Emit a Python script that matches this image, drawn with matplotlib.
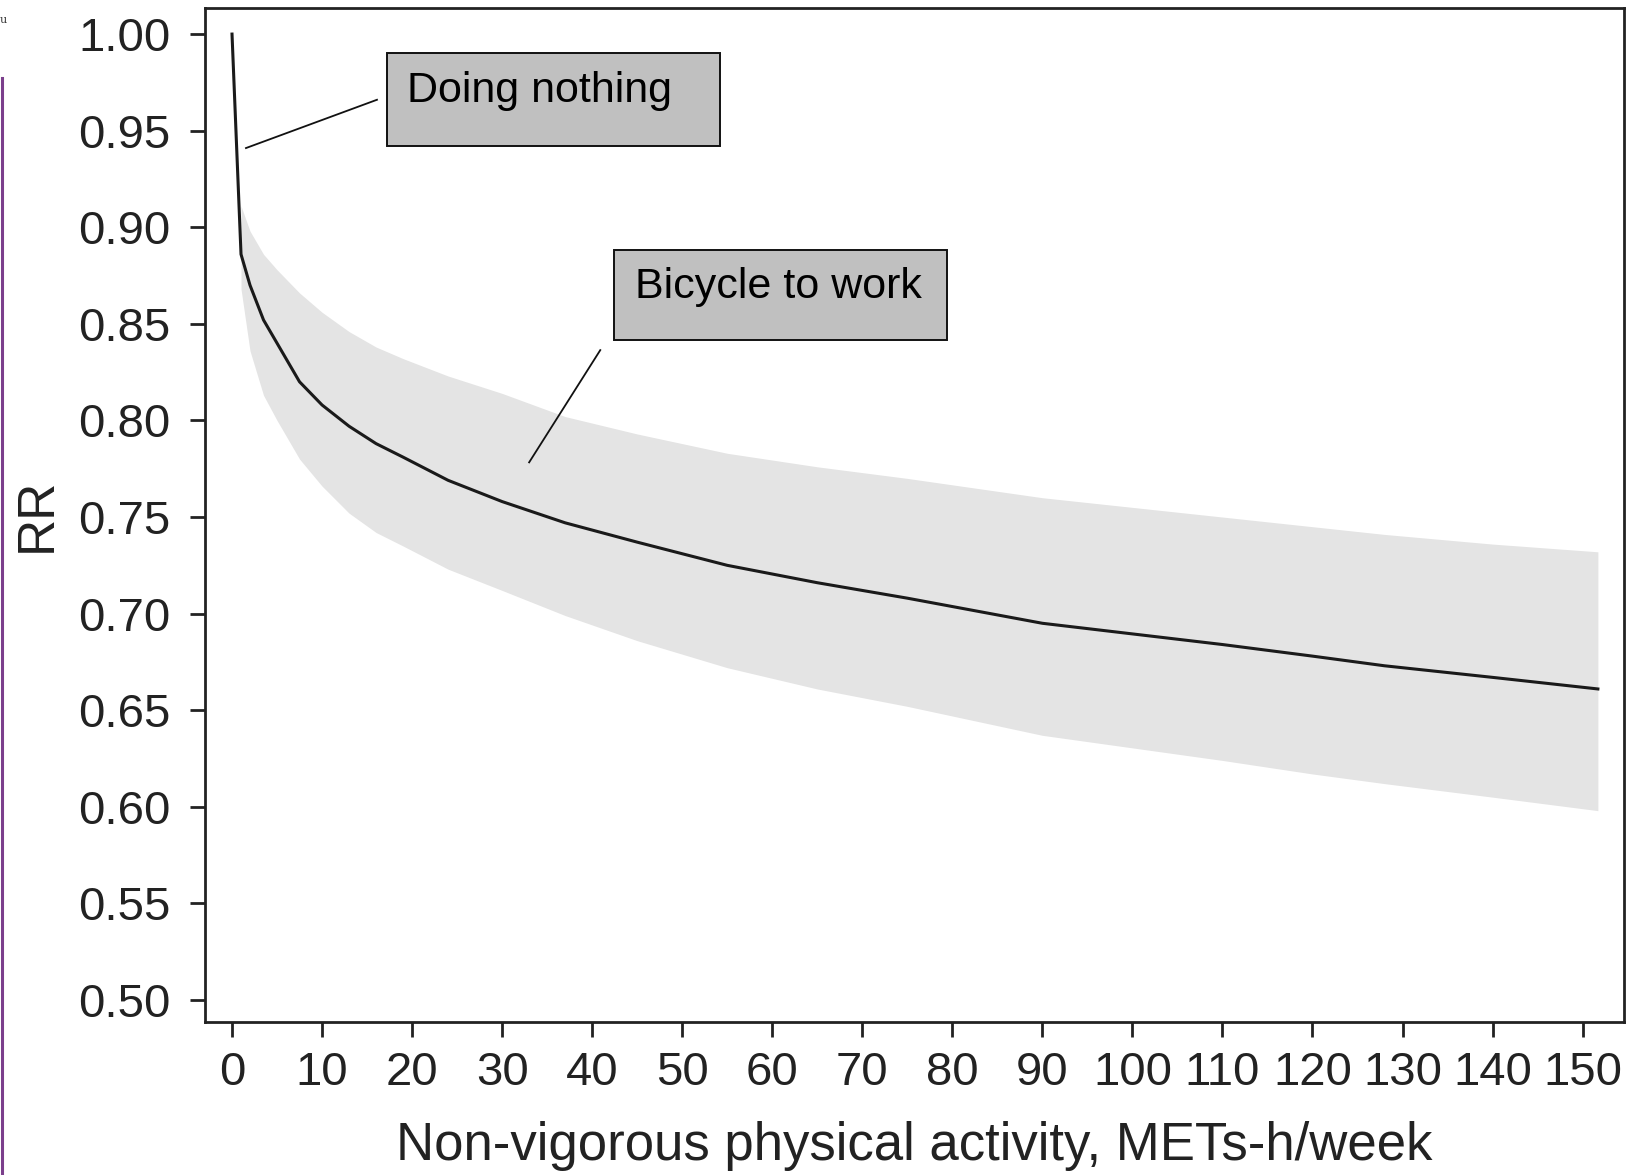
import matplotlib
matplotlib.use("Agg")
import matplotlib.pyplot as plt
from matplotlib.patches import Rectangle
from matplotlib.lines import Line2D

plt.rcParams['font.family'] = ['Liberation Sans', 'DejaVu Sans']

# pooled dose-response curve
mets = [0, 1, 2, 3.5, 5, 7.5, 10, 13, 16, 19, 24, 30, 37, 45, 55, 65, 75, 90, 110, 120, 128, 140, 151.7]
rr = [1.000, 0.886, 0.870, 0.852, 0.840, 0.820, 0.808, 0.797, 0.788, 0.781, 0.769, 0.758,
      0.747, 0.737, 0.725, 0.716, 0.708, 0.695, 0.684, 0.678, 0.673, 0.667, 0.661]
ci_x = mets[1:]
ci_upper = [0.911, 0.898, 0.886, 0.878, 0.866, 0.856, 0.846, 0.838, 0.832, 0.823, 0.814,
            0.802, 0.793, 0.783, 0.776, 0.770, 0.760, 0.750, 0.745, 0.741, 0.736, 0.732]
ci_lower = [0.868, 0.836, 0.813, 0.800, 0.780, 0.766, 0.752, 0.742, 0.735, 0.723, 0.712,
            0.699, 0.686, 0.672, 0.661, 0.652, 0.637, 0.624, 0.617, 0.612, 0.605, 0.598]

xticks = list(range(0, 151, 10))
yticks = [0.50, 0.55, 0.60, 0.65, 0.70, 0.75, 0.80, 0.85, 0.90, 0.95, 1.00]

fig = plt.figure(figsize=(16.37, 11.75), dpi=100)
ax = fig.add_axes([205 / 1637, 1 - 1022 / 1175, 1419 / 1637, 1014 / 1175])

ax.fill_between(ci_x, ci_lower, ci_upper, color='#e4e4e4', lw=0, zorder=1)
ax.plot(mets, rr, color='#1a1a1a', lw=2.2, zorder=3, solid_joinstyle='round')

# annotation boxes
ax.add_patch(Rectangle((17.2, 0.942), 37.0, 0.048, facecolor='#c0c0c0', edgecolor='#111111', lw=1.4, zorder=4))
ax.text(19.4, 0.9705, 'Doing nothing', fontsize=31, va='center', ha='left', zorder=5)
ax.plot([16.1, 1.55], [0.966, 0.941], color='#111111', lw=1.3, zorder=4)

ax.add_patch(Rectangle((42.4, 0.8416), 37.0, 0.0466, facecolor='#c0c0c0', edgecolor='#111111', lw=1.4, zorder=4))
ax.text(44.8, 0.869, 'Bicycle to work', fontsize=31, va='center', ha='left', zorder=5)
ax.plot([40.9, 33.0], [0.8364, 0.7783], color='#111111', lw=1.3, zorder=4)

ax.set_xlim(-3.0, 154.6)
ax.set_ylim(0.4886, 1.0135)
ax.set_xticks(xticks)
ax.set_xticklabels([str(t) for t in xticks])
ax.set_yticks(yticks)
ax.set_yticklabels(['%.2f' % t for t in yticks])

for s in ax.spines.values():
    s.set_linewidth(2.0)
    s.set_color('#222222')
ax.tick_params(axis='both', length=11, width=2.0, color='#222222', labelsize=34, labelcolor='#222222')
ax.tick_params(axis='y', pad=14)
ax.tick_params(axis='x', pad=10)

ax.set_xlabel('Non-vigorous physical activity, METs-h/week', fontsize=38, color='#222222')
ax.set_ylabel('RR', fontsize=37, color='#222222')
ax.xaxis.set_label_coords(0.5, -0.122)
ax.xaxis.label.set_va('center')
ax.yaxis.set_label_coords(-0.118, 0.5)
ax.yaxis.label.set_va('center')

# purple margin rule and stray glyph from the page crop
fig.add_artist(Line2D([0.001, 0.001], [0, 1 - 78 / 1175], color='#7b3f8c', lw=2.2))
fig.text(0.0, 1 - 20 / 1175, 'u', fontsize=8, family='serif', va='center', ha='left', color='#333333')

fig.savefig('out.png', dpi=100)
